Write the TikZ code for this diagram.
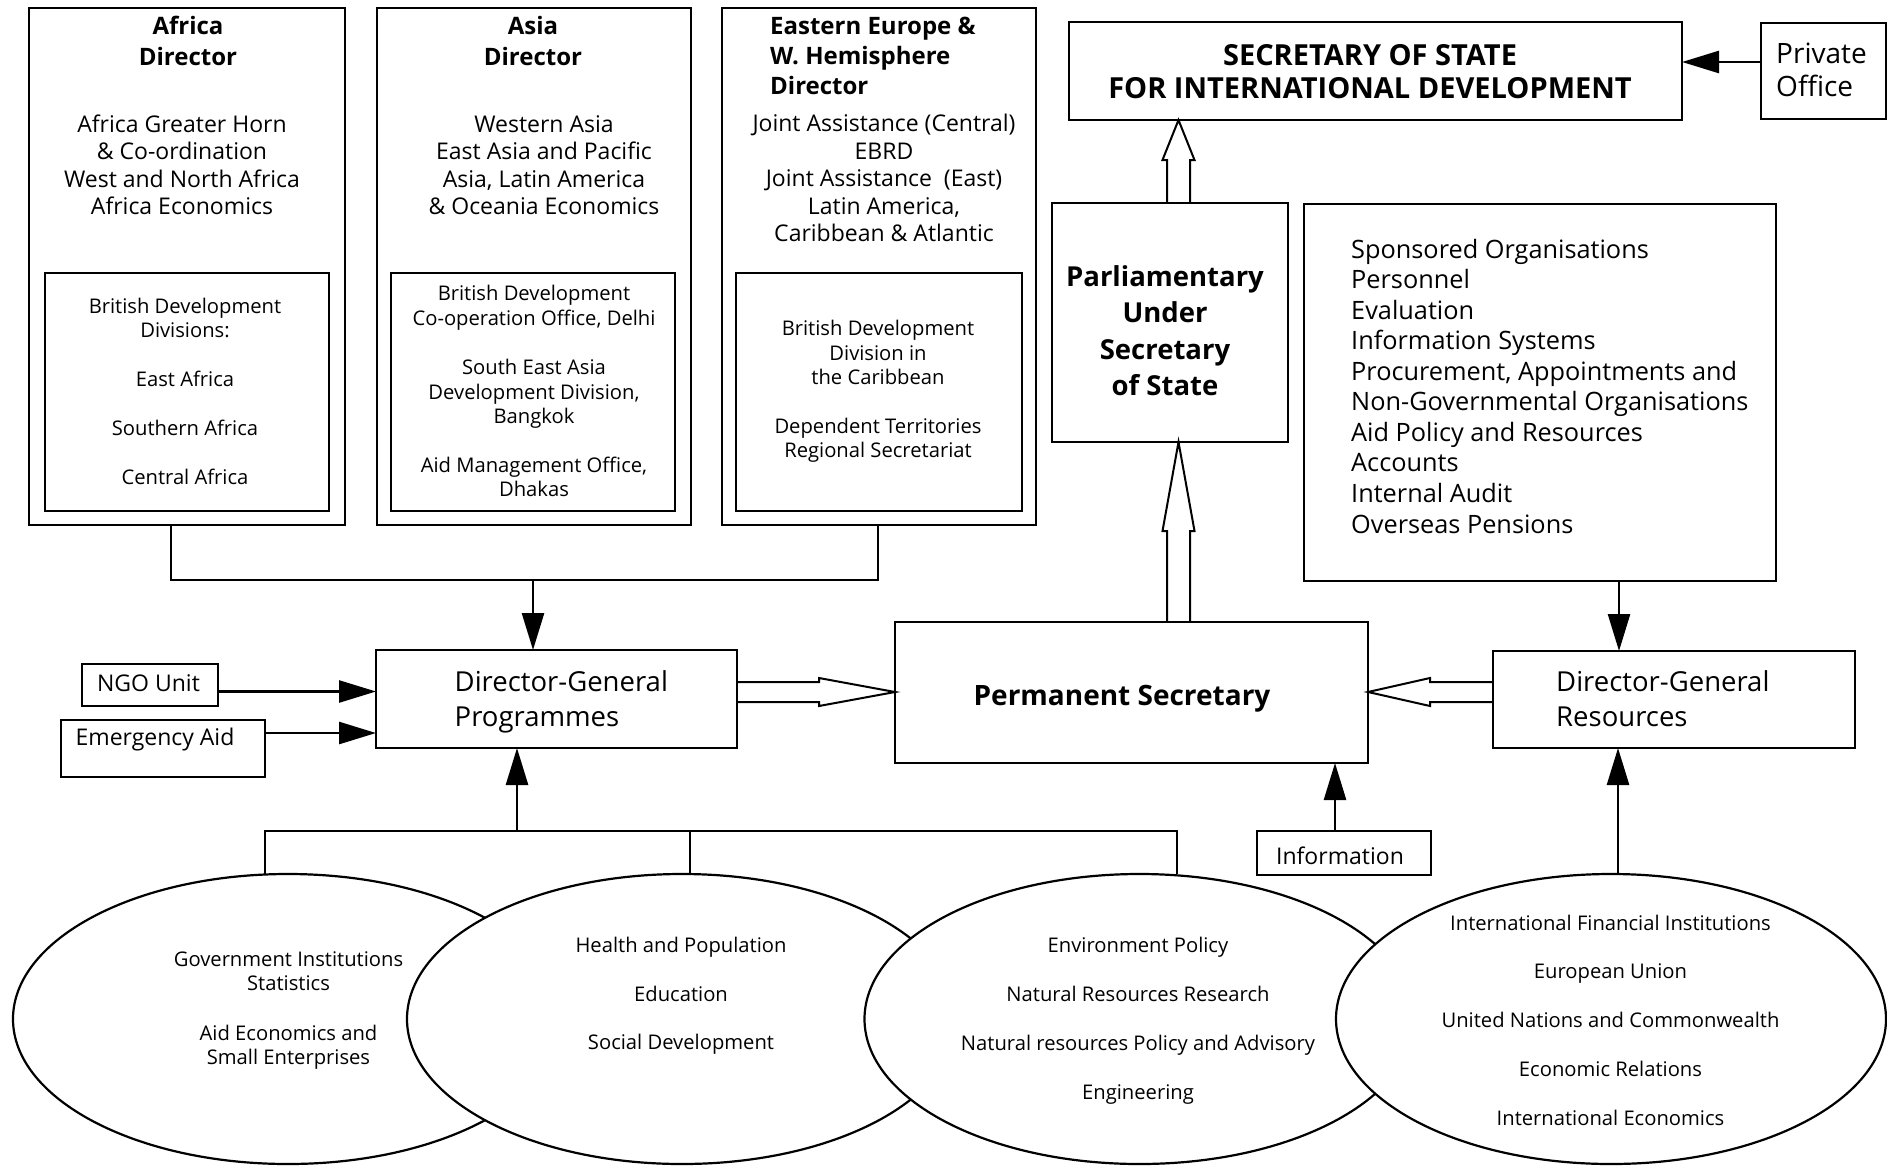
\documentclass[tikz,border=0pt]{standalone}
\usepackage{fontspec}
\setmainfont{Open Sans}
\usetikzlibrary{arrows.meta,calc,shapes.geometric}
\newcommand{\fsz}[1]{\fontsize{#1}{#1}\selectfont}
\newcommand{\mybox}[5]{\node[box, minimum width={(#4)-(#2)}, minimum height={(#5)-(#3)}] (#1) at ({((#2)+(#4))/2},{((#3)+(#5))/2}) {};}
\newcommand{\vhollow}[3]{\draw[harr] ($(#1)+(-11.5,0)$) -- ($(#2)+(-11.5,#3)$) -- ($(#2)+(-16,#3)$) -- (#2) -- ($(#2)+(16,#3)$) -- ($(#2)+(11.5,#3)$) -- ($(#1)+(11.5,0)$);}
\newcommand{\hhollow}[3]{\draw[harr] ($(#1)+(0,-10)$) -- ($(#2)+(#3,-10)$) -- ($(#2)+(#3,-14)$) -- (#2) -- ($(#2)+(#3,14)$) -- ($(#2)+(#3,10)$) -- ($(#1)+(0,10)$);}
\begin{document}
\begin{tikzpicture}[x=1pt,y=-1pt,
  box/.style={draw, line width=2.2pt, fill=white, inner sep=0pt, outer sep=0pt},
  ell/.style={draw, ellipse, line width=2.2pt, fill=white, inner sep=0pt, outer sep=0pt, minimum width=550pt, minimum height=290pt},
  conn/.style={line width=2.6pt},
  farr/.style={line width=2.6pt, -{Triangle[length=37pt,width=22pt]}},
  harr/.style={line width=2pt, line join=miter},
  tl/.style={inner sep=0pt, anchor=base},
  tlw/.style={inner sep=0pt, anchor=base west},
  body/.style={font=\fsz{23}},
  small/.style={font=\fsz{20.2}},
  ttl/.style={font=\bfseries\fsz{24}}]
\useasboundingbox[fill=white] (0,0) rectangle (1887,1167);

% ---------- boxes ----------
\mybox{af}{29}{8}{345}{525}
\mybox{afi}{45}{273}{329}{511}
\mybox{as}{377}{8}{691}{525}
\mybox{asi}{391}{273}{675}{511}
\mybox{ee}{722}{8}{1036}{525}
\mybox{eei}{736}{273}{1022}{511}
\mybox{sos}{1069}{22}{1682}{120}
\mybox{po}{1761}{23}{1886}{119}
\mybox{puss}{1052}{203}{1288}{442}
\mybox{big}{1304}{204}{1776}{581}
\mybox{dgp}{376}{650}{737}{748}
\mybox{ps}{895}{622}{1368}{763}
\mybox{dgr}{1493}{651}{1855}{748}
\mybox{ngo}{82}{664}{218}{706}
\mybox{em}{61}{720}{265}{777}
\mybox{info}{1257}{831}{1431}{875}

% ---------- ellipses ----------
\node[ell] (e1) at (288,1019) {};
\node[ell] (e2) at (682,1019) {};
\node[ell] (e3) at (1139.5,1019) {};
\node[ell] (e4) at (1611,1019) {};

% ---------- connectors ----------
\coordinate (busL) at (171,580);
\coordinate (busR) at (878,580);
\coordinate (busM) at (533,580);
\draw[conn] (busL |- af.south) -- (busL) -- (busR) -- (busR |- ee.south);
\draw[farr] (busM) -- (busM |- dgp.north);

\coordinate (y62) at (0,62);
\draw[farr] (po.west |- y62) -- (sos.east |- y62);

\coordinate (xbig) at (1619,0);
\draw[farr] (xbig |- big.south) -- (xbig |- dgr.north);

\coordinate (xinfo) at (1335,0);
\draw[farr] (xinfo |- info.north) -- (xinfo |- ps.south);

\coordinate (xe4) at (1618,0);
\draw[farr] (xe4 |- e4.north) -- (xe4 |- dgr.south);

\coordinate (yngo) at (0,691.5);
\draw[farr] (ngo.east |- yngo) -- (dgp.west |- yngo);
\coordinate (yem) at (0,733);
\draw[farr] (em.east |- yem) -- (dgp.west |- yem);

\coordinate (bL) at (265,831);
\coordinate (bM) at (517,831);
\coordinate (b2) at (690,831);
\coordinate (bR) at (1177,831);
\draw[conn] (bL |- e1.north) -- (bL) -- (bR) -- (bR |- e3.north);
\draw[conn] (b2) -- (b2 |- e2.north);
\draw[farr] (bM) -- (bM |- dgp.south);

% hollow arrows
\coordinate (xh) at (1178.5,0);
\vhollow{xh |- puss.north}{xh |- sos.south}{40}
\vhollow{xh |- ps.north}{xh |- puss.south}{89}
\coordinate (yh) at (0,692);
\hhollow{dgp.east |- yh}{ps.west |- yh}{-76}
\hhollow{dgr.west |- yh}{ps.east |- yh}{62}

% ---------- texts ----------
\node[tl,ttl] (aft1) at (188,34) {Africa};
\node[tl,ttl] (aft2) at (188,65) {Director};
\foreach \t/\y [count=\i] in {Africa Greater Horn/132, {\& Co-ordination}/159.5, West and North Africa/187, Africa Economics/214.5}
  \node[tl,body] (afb\i) at (182,\y) {\t};
\foreach \t/\y [count=\i] in {British Development/313, Divisions:/337, East Africa/386.5, Southern Africa/435, Central Africa/484}
  \node[tl,small] (afi\i) at (185,\y) {\t};

\node[tl,ttl] (ast1) at (533,34) {Asia};
\node[tl,ttl] (ast2) at (533,65) {Director};
\foreach \t/\y [count=\i] in {Western Asia/132, East Asia and Pacific/159.5, {Asia, Latin America}/187, {\& Oceania Economics}/214.5}
  \node[tl,body] (asb\i) at (544,\y) {\t};
\foreach \t/\y [count=\i] in {British Development/300, {Co-operation Office, Delhi}/325, South East Asia/374, {Development Division,}/399, Bangkok/423, {Aid Management Office,}/472, Dhakas/496}
  \node[tl,small] (asi\i) at (534,\y) {\t};

\node[tlw,ttl] (eet1) at (770,34) {Eastern Europe \&};
\node[tlw,ttl] (eet2) at (770,64) {W. Hemisphere};
\node[tlw,ttl] (eet3) at (770,94) {Director};
\foreach \t/\y [count=\i] in {Joint Assistance (Central)/131.5, EBRD/159, {Joint Assistance\ \ (East)}/186.5, {Latin America,}/214, {Caribbean \& Atlantic}/241}
  \node[tl,body] (eeb\i) at (884,\y) {\t};
\foreach \t/\y [count=\i] in {British Development/335.6, Division in/360, the Caribbean/384, Dependent Territories/433.6, Regional Secretariat/457}
  \node[tl,small] (eei\i) at (878,\y) {\t};

\node[tl,font=\bfseries\fsz{29}] (sos1) at (1370,65) {SECRETARY OF STATE};
\node[tl,font=\bfseries\fsz{29}] (sos2) at (1370,98) {FOR INTERNATIONAL DEVELOPMENT};
\node[tlw,font=\fsz{28}] (po1) at (1776,63) {Private};
\node[tlw,font=\fsz{28}] (po2) at (1776,96) {Office};

\foreach \t/\y [count=\i] in {Parliamentary/286, Under/322.5, Secretary/359, of State/395}
  \node[tl,font=\bfseries\fsz{27.5}] (pu\i) at (1165,\y) {\t};

\foreach \t/\y [count=\i] in {Sponsored Organisations/258, Personnel/288.6, Evaluation/319.1, Information Systems/349.7, {Procurement, Appointments and}/380.2, Non-Governmental Organisations/410.8, Aid Policy and Resources/441.3, Accounts/471.9, Internal Audit/502.4, Overseas Pensions/533}
  \node[tlw,font=\fsz{25.3}] (bg\i) at (1351,\y) {\t};

\node[tl,font=\bfseries\fsz{28}] (pst) at (1122,705) {Permanent Secretary};
\node[tlw,font=\fsz{27.5}] (dgp1) at (454.5,691) {Director-General};
\node[tlw,font=\fsz{27.5}] (dgp2) at (454.5,726) {Programmes};
\node[tlw,font=\fsz{27.5}] (dgr1) at (1556,691) {Director-General};
\node[tlw,font=\fsz{27.5}] (dgr2) at (1556,726) {Resources};
\node[tl,body] (ngot) at (148.5,691) {NGO Unit};
\node[tl,body] (emt) at (155,745.6) {Emergency Aid};
\node[tl,body] (inft) at (1340,864) {Information};

\foreach \t/\y [count=\i] in {Government Institutions/966.5, Statistics/990, Aid Economics and/1040, Small Enterprises/1064}
  \node[tl,small] (e1t\i) at (288.5,\y) {\t};
\foreach \t/\y [count=\i] in {Health and Population/952.5, Education/1001, Social Development/1049.5}
  \node[tl,small] (e2t\i) at (681,\y) {\t};
\foreach \t/\y [count=\i] in {Environment Policy/952.5, Natural Resources Research/1001, Natural resources Policy and Advisory/1050, Engineering/1099}
  \node[tl,small] (e3t\i) at (1138,\y) {\t};
\foreach \t/\y [count=\i] in {International Financial Institutions/930.5, European Union/978.5, United Nations and Commonwealth/1027.5, Economic Relations/1076.5, International Economics/1125.5}
  \node[tl,small] (e4t\i) at (1610.5,\y) {\t};
\end{tikzpicture}
\end{document}
